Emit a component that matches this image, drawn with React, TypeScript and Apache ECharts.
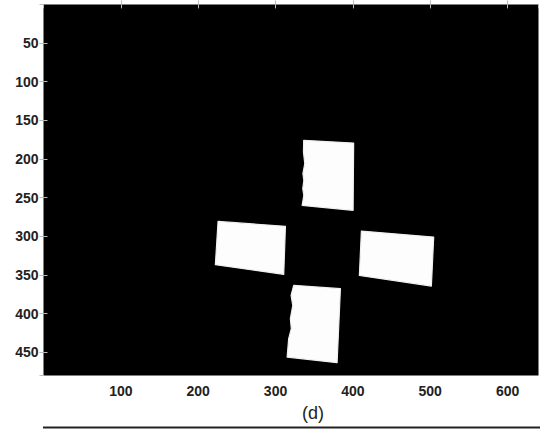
import React, { useEffect, useRef } from "react";
import * as echarts from "echarts";

// Image extent (pixels of the shown binary image)
const IMAGE_WIDTH = 640;
const IMAGE_HEIGHT = 480;
const X_TICKS = [100, 200, 300, 400, 500, 600];
const Y_TICKS = [50, 100, 150, 200, 250, 300, 350, 400, 450];
const CAPTION = "(d)";

// White blobs, vertices in image coordinates [column, row]
const TOP_BLOB: number[][] = [
  [336.4, 175.8], [401, 179.3], [400.3, 266.3], [334.4, 259.9],
  [336.6, 246.9], [335.2, 238.3], [336.6, 227.5], [335.4, 218.9],
  [337.8, 206], [336.1, 190.9],
];
const LEFT_BLOB: number[][] = [
  [225.7, 280.6], [312.8, 287], [310.6, 349.1], [222.2, 336.6],
];
const RIGHT_BLOB: number[][] = [
  [411, 293.1], [504.5, 300.9], [501.5, 364.2], [408.4, 350.4],
];
const BOTTOM_BLOB: number[][] = [
  [323.5, 363.3], [383.9, 367.6], [379.6, 463.3], [315, 456],
  [317, 432.2], [320.4, 419.3], [319.2, 406.4], [322.3, 389.2],
  [320.1, 376.2],
];
const BLOBS = [TOP_BLOB, LEFT_BLOB, RIGHT_BLOB, BOTTOM_BLOB];

const FONT = "'Liberation Sans', Arial, Helvetica, sans-serif";

export default function App() {
  const ref = useRef<HTMLDivElement>(null);
  useEffect(() => {
    if (!ref.current) return;
    const chart = echarts.init(ref.current, undefined, { renderer: "svg" });
    const labelStyle = {
      fontFamily: FONT,
      fontSize: 14,
      fontWeight: "bold" as const,
      color: "#222",
    };
    const tickStyle = { show: true, inside: true, length: 4, lineStyle: { color: "#bbb", width: 1 } };
    const xFmt = (v: number) => (X_TICKS.includes(v) ? String(v) : "");
    const yFmt = (v: number) => (Y_TICKS.includes(v) ? String(v) : "");
    const grid = { left: 43.5, top: 4.4, width: 495, height: 371.2 };
    chart.setOption({
      animation: false,
      backgroundColor: "#fff",
      grid: {
        ...grid,
        show: true,
        backgroundColor: "#000",
        borderWidth: 0,
        containLabel: false,
      },
      xAxis: [
        {
          type: "value",
          min: 0,
          max: IMAGE_WIDTH,
          interval: 100,
          position: "bottom",
          axisLine: { show: false },
          axisTick: tickStyle,
          splitLine: { show: false },
          axisLabel: { ...labelStyle, margin: 8, formatter: xFmt, showMinLabel: false, showMaxLabel: false },
        },
        {
          type: "value",
          min: 0,
          max: IMAGE_WIDTH,
          interval: 100,
          position: "top",
          axisLine: { show: false },
          axisTick: tickStyle,
          splitLine: { show: false },
          axisLabel: { show: false },
        },
      ],
      yAxis: [
        {
          type: "value",
          min: 0,
          max: IMAGE_HEIGHT,
          interval: 50,
          inverse: true,
          position: "left",
          axisLine: { show: false },
          axisTick: tickStyle,
          splitLine: { show: false },
          axisLabel: { ...labelStyle, margin: 5, formatter: yFmt, showMinLabel: false, showMaxLabel: false },
        },
        {
          type: "value",
          min: 0,
          max: IMAGE_HEIGHT,
          interval: 50,
          inverse: true,
          position: "right",
          axisLine: { show: false },
          axisTick: tickStyle,
          splitLine: { show: false },
          axisLabel: { show: false },
        },
      ],
      series: [
        {
          type: "custom",
          xAxisIndex: 0,
          yAxisIndex: 0,
          clip: true,
          silent: true,
          data: BLOBS.map((b) => b[0]),
          renderItem: (params: any, api: any) => {
            const pts = BLOBS[params.dataIndex].map((p) => api.coord(p));
            return {
              type: "polygon",
              shape: { points: pts, smooth: 0 },
              style: { fill: "#fdfdfd", stroke: "#f0f0f0", lineWidth: 1.2, lineJoin: "round" },
            };
          },
        },
      ],
      graphic: [
        {
          type: "text",
          x: 313,
          y: 413,
          style: {
            text: CAPTION,
            fontFamily: FONT,
            fontSize: 18,
            fill: "#222",
            textAlign: "center",
            textVerticalAlign: "middle",
          },
        },
        {
          type: "line",
          shape: { x1: 43, y1: 427.5, x2: 540, y2: 427.5 },
          style: { stroke: "#222", lineWidth: 2 },
        },
      ],
    });
    return () => chart.dispose();
  }, []);
  return (
    <div
      ref={ref}
      style={{ position: "fixed", left: 0, top: 0, width: 544, height: 429 }}
    />
  );
}
